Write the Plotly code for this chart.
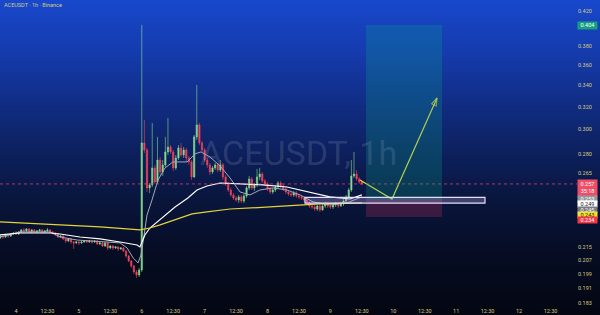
import plotly.graph_objects as go

# ---------------- data ----------------
hours = list(range(-6, 133))  # hours since day "4" 00:00

opens = [
    0.2204, 0.2216, 0.2210, 0.2223, 0.2216, 0.2229, 0.2235, 0.2229, 0.2242, 0.2255,
    0.2248, 0.2261, 0.2242, 0.2255, 0.2242, 0.2248, 0.2255, 0.2242, 0.2248, 0.2255,
    0.2242, 0.2235, 0.2229, 0.2210, 0.2216, 0.2198, 0.2185, 0.2198, 0.2179, 0.2173,
    0.2179, 0.2173, 0.2179, 0.2185, 0.2179, 0.2185, 0.2179, 0.2185, 0.2167, 0.2173,
    0.2154, 0.2173, 0.2142, 0.2154, 0.2142, 0.2148, 0.2136, 0.2142, 0.2124, 0.2094,
    0.2064, 0.2035, 0.2001, 0.1984, 0.2012, 0.2888, 0.2831, 0.2541, 0.2563, 0.2690,
    0.2585, 0.2751, 0.2659, 0.2713, 0.2815, 0.2855, 0.2815, 0.2690, 0.2767, 0.2847,
    0.2791, 0.2831, 0.2767, 0.2736, 0.2622, 0.2938, 0.3040, 0.2888, 0.2831, 0.2751,
    0.2713, 0.2659, 0.2690, 0.2713, 0.2674, 0.2713, 0.2622, 0.2570, 0.2526, 0.2491,
    0.2469, 0.2455, 0.2477, 0.2448, 0.2484, 0.2541, 0.2607, 0.2541, 0.2563, 0.2622,
    0.2644, 0.2592, 0.2570, 0.2534, 0.2512, 0.2526, 0.2548, 0.2577, 0.2555, 0.2534,
    0.2512, 0.2498, 0.2491, 0.2505, 0.2484, 0.2477, 0.2469, 0.2455, 0.2435, 0.2414,
    0.2407, 0.2393, 0.2414, 0.2387, 0.2414, 0.2428, 0.2414, 0.2407, 0.2421, 0.2428,
    0.2414, 0.2428, 0.2448, 0.2477, 0.2526, 0.2629, 0.2644, 0.2607, 0.2585,
]
highs = [
    0.2223, 0.2223, 0.2229, 0.2229, 0.2235, 0.2242, 0.2248, 0.2248, 0.2261, 0.2267,
    0.2267, 0.2267, 0.2261, 0.2261, 0.2255, 0.2261, 0.2261, 0.2255, 0.2267, 0.2261,
    0.2248, 0.2242, 0.2235, 0.2223, 0.2223, 0.2204, 0.2204, 0.2204, 0.2185, 0.2185,
    0.2185, 0.2185, 0.2191, 0.2191, 0.2191, 0.2191, 0.2191, 0.2191, 0.2179, 0.2179,
    0.2179, 0.2179, 0.2160, 0.2160, 0.2154, 0.2154, 0.2148, 0.2148, 0.2130, 0.2100,
    0.2070, 0.2041, 0.2012, 0.2024, 0.4040, 0.3083, 0.2847, 0.2577, 0.3057, 0.2713,
    0.2938, 0.2775, 0.2751, 0.2938, 0.3101, 0.2871, 0.2831, 0.2791, 0.2871, 0.2888,
    0.2855, 0.2847, 0.2783, 0.2751, 0.2954, 0.3406, 0.3057, 0.2904, 0.2847, 0.2767,
    0.2728, 0.2705, 0.2728, 0.2728, 0.2751, 0.2728, 0.2636, 0.2585, 0.2541, 0.2505,
    0.2484, 0.2491, 0.2491, 0.2498, 0.2555, 0.2629, 0.2622, 0.2577, 0.2682, 0.2690,
    0.2659, 0.2607, 0.2585, 0.2548, 0.2541, 0.2563, 0.2592, 0.2592, 0.2570, 0.2548,
    0.2526, 0.2512, 0.2519, 0.2519, 0.2498, 0.2491, 0.2484, 0.2469, 0.2448, 0.2428,
    0.2421, 0.2421, 0.2428, 0.2428, 0.2442, 0.2442, 0.2428, 0.2435, 0.2442, 0.2442,
    0.2442, 0.2462, 0.2491, 0.2541, 0.2751, 0.2815, 0.2674, 0.2622, 0.2592,
]
lows = [
    0.2198, 0.2198, 0.2204, 0.2204, 0.2210, 0.2223, 0.2223, 0.2223, 0.2235, 0.2235,
    0.2242, 0.2235, 0.2235, 0.2235, 0.2235, 0.2242, 0.2235, 0.2235, 0.2242, 0.2235,
    0.2229, 0.2216, 0.2204, 0.2204, 0.2191, 0.2173, 0.2179, 0.2167, 0.2136, 0.2167,
    0.2160, 0.2167, 0.2173, 0.2173, 0.2173, 0.2167, 0.2173, 0.2160, 0.2160, 0.2148,
    0.2148, 0.2130, 0.2136, 0.2130, 0.2136, 0.2124, 0.2130, 0.2118, 0.2082, 0.2058,
    0.2024, 0.1989, 0.1967, 0.1972, 0.2001, 0.2807, 0.2512, 0.2505, 0.2548, 0.2570,
    0.2570, 0.2636, 0.2629, 0.2697, 0.2791, 0.2799, 0.2667, 0.2674, 0.2751, 0.2775,
    0.2767, 0.2736, 0.2713, 0.2599, 0.2614, 0.2913, 0.2871, 0.2815, 0.2736, 0.2690,
    0.2636, 0.2644, 0.2674, 0.2659, 0.2659, 0.2599, 0.2555, 0.2512, 0.2477, 0.2455,
    0.2442, 0.2435, 0.2435, 0.2435, 0.2469, 0.2526, 0.2526, 0.2519, 0.2548, 0.2599,
    0.2577, 0.2555, 0.2519, 0.2498, 0.2498, 0.2512, 0.2534, 0.2541, 0.2519, 0.2498,
    0.2484, 0.2477, 0.2477, 0.2469, 0.2462, 0.2455, 0.2442, 0.2421, 0.2400, 0.2393,
    0.2380, 0.2380, 0.2373, 0.2380, 0.2400, 0.2400, 0.2393, 0.2393, 0.2407, 0.2400,
    0.2407, 0.2414, 0.2435, 0.2462, 0.2512, 0.2614, 0.2592, 0.2570, 0.2563,
]
closes = [
    0.2216, 0.2210, 0.2223, 0.2216, 0.2229, 0.2235, 0.2229, 0.2242, 0.2255, 0.2248,
    0.2261, 0.2242, 0.2255, 0.2242, 0.2248, 0.2255, 0.2242, 0.2248, 0.2255, 0.2242,
    0.2235, 0.2229, 0.2210, 0.2216, 0.2198, 0.2185, 0.2198, 0.2179, 0.2173, 0.2179,
    0.2173, 0.2179, 0.2185, 0.2179, 0.2185, 0.2179, 0.2185, 0.2167, 0.2173, 0.2154,
    0.2173, 0.2142, 0.2154, 0.2142, 0.2148, 0.2136, 0.2142, 0.2124, 0.2094, 0.2064,
    0.2035, 0.2001, 0.1984, 0.2012, 0.2888, 0.2831, 0.2541, 0.2563, 0.2690, 0.2585,
    0.2751, 0.2659, 0.2713, 0.2815, 0.2855, 0.2815, 0.2690, 0.2767, 0.2847, 0.2791,
    0.2831, 0.2767, 0.2736, 0.2622, 0.2938, 0.3040, 0.2888, 0.2831, 0.2751, 0.2713,
    0.2659, 0.2690, 0.2713, 0.2674, 0.2713, 0.2622, 0.2570, 0.2526, 0.2491, 0.2469,
    0.2455, 0.2477, 0.2448, 0.2484, 0.2541, 0.2607, 0.2541, 0.2563, 0.2622, 0.2644,
    0.2592, 0.2570, 0.2534, 0.2512, 0.2526, 0.2548, 0.2577, 0.2555, 0.2534, 0.2512,
    0.2498, 0.2491, 0.2505, 0.2484, 0.2477, 0.2469, 0.2455, 0.2435, 0.2414, 0.2407,
    0.2393, 0.2414, 0.2387, 0.2414, 0.2428, 0.2414, 0.2407, 0.2421, 0.2428, 0.2414,
    0.2428, 0.2448, 0.2477, 0.2526, 0.2629, 0.2644, 0.2607, 0.2585, 0.2570,
]

# moving-average lines
yellow_hours = [-6.1, 16.8, 32.1, 47.3, 51.1, 55.0, 60.7, 67.2, 72.9, 81.7, 96.9, 116.0, 132.0]
yellow_prices = [0.2307, 0.2290, 0.2274, 0.2255, 0.2267, 0.2287, 0.2320, 0.2360, 0.2373,
                 0.2393, 0.2407, 0.2428, 0.2435]

white_hours = [-6.1, 1.5, 13.0, 16.8, 24.4, 32.1, 39.7, 46.2, 47.3, 49.2, 51.1, 54.2, 56.9,
               60.7, 65.6, 69.1, 72.9, 77.9, 85.5, 94.3, 103.4, 111.1, 119.8, 127.5, 129.8, 132.0]
white_prices = [0.2223, 0.2235, 0.2235, 0.2229, 0.2210, 0.2198, 0.2179, 0.2160, 0.2148, 0.2223,
                0.2267, 0.2313, 0.2353, 0.2407, 0.2469, 0.2526, 0.2555, 0.2577, 0.2570, 0.2563,
                0.2548, 0.2512, 0.2477, 0.2462, 0.2477, 0.2491]

gray_hours = [-6.1, 1.5, 13.0, 16.8, 23.3, 32.1, 39.7, 42.4, 44.7, 46.6, 47.7, 48.9, 50.0, 51.9,
              54.2, 56.9, 59.9, 65.3, 68.3, 70.6, 74.0, 77.9, 81.7, 85.5, 89.3, 93.1, 98.1,
              103.4, 108.4, 113.4, 119.8, 126.3, 129.4, 132.0]
gray_prices = [0.2210, 0.2242, 0.2242, 0.2210, 0.2191, 0.2179, 0.2173, 0.2142, 0.2082, 0.2053,
               0.2100, 0.2223, 0.2353, 0.2455, 0.2599, 0.2690, 0.2736, 0.2736, 0.2799, 0.2815,
               0.2775, 0.2705, 0.2614, 0.2512, 0.2491, 0.2526, 0.2541, 0.2526, 0.2491, 0.2442,
               0.2421, 0.2435, 0.2455, 0.2477]

# drawings
arrow_hours = [131.3, 143.5, 160.7]
arrow_prices = [0.2599, 0.2462, 0.3282]
zone_hours = [110.3, 179.0]          # white rectangle
zone_prices = [0.2434, 0.2474]
position_hours = [133.6, 162.6]      # long position tool
target_price = 0.404
entry_price = 0.2455
stop_price = 0.234
last_price = 0.257

# axis ticks (0.400 is hidden behind the 0.404 label in the reference)
y_ticks = [0.420, 0.380, 0.360, 0.340, 0.320, 0.300, 0.280, 0.265,
           0.215, 0.207, 0.199, 0.191, 0.183]
x_tick_vals = [0, 12, 24, 36, 48, 60, 72, 84, 96, 108, 120, 132, 144, 156, 168, 180, 192, 204]
x_tick_text = ["4", "12:30", "5", "12:30", "6", "12:30", "7", "12:30", "8", "12:30",
               "9", "12:30", "10", "12:30", "11", "12:30", "12", "12:30"]

# ---------------- styling ----------------
W, H = 600, 315
PW, PH = 577, 306           # plot area size in px
GREEN = "#86dc8e"
RED = "#f2445c"
TXT = "#d4ca80"
FONT = "Roboto"

fig = go.Figure()

fig.add_trace(go.Candlestick(
    x=hours, open=opens, high=highs, low=lows, close=closes,
    increasing=dict(line=dict(color=GREEN, width=0.6), fillcolor=GREEN),
    decreasing=dict(line=dict(color=RED, width=0.6), fillcolor=RED),
    whiskerwidth=0, hoverinfo="skip", showlegend=False,
))
fig.add_trace(go.Scatter(x=gray_hours, y=gray_prices, mode="lines",
                         line=dict(color="#a3a8b6", width=1), hoverinfo="skip", showlegend=False))
fig.add_trace(go.Scatter(x=white_hours, y=white_prices, mode="lines",
                         line=dict(color="#ffffff", width=1.15), hoverinfo="skip", showlegend=False))
fig.add_trace(go.Scatter(x=yellow_hours, y=yellow_prices, mode="lines",
                         line=dict(color="#e3d23c", width=1.2), hoverinfo="skip", showlegend=False))
fig.add_trace(go.Scatter(
    x=arrow_hours, y=arrow_prices, mode="lines+markers",
    line=dict(color="#e6d640", width=1.2),
    marker=dict(symbol="arrow-open", size=[0, 0, 8], angleref="previous",
                color="#e6d640", line=dict(color="#e6d640", width=1.2)),
    hoverinfo="skip", showlegend=False))

# background gradient
stops = [(0, (24, 72, 204)), (50, (21, 60, 175)), (100, (17, 46, 135)), (150, (13, 33, 95)),
         (200, (9, 21, 60)), (250, (6, 13, 36)), (315, (4, 7, 18))]


def col_at(y):
    for (y0, c0), (y1, c1) in zip(stops[:-1], stops[1:]):
        if y0 <= y <= y1:
            t = (y - y0) / (y1 - y0)
            return "rgb(%d,%d,%d)" % tuple(round(a + (b - a) * t) for a, b in zip(c0, c1))
    return "rgb(%d,%d,%d)" % stops[-1][1]


shapes = []
step = 3
for i in range(0, H, step):
    shapes.append(dict(type="rect", xref="paper", yref="paper", layer="below",
                       x0=-0.01, x1=W / PW + 0.01,
                       y0=1 - (i + step + 0.8) / PH, y1=1 - i / PH,
                       fillcolor=col_at(i + step / 2), line=dict(width=0)))

# current price dotted line
shapes.append(dict(type="line", xref="paper", yref="y", x0=0, x1=1, y0=last_price, y1=last_price,
                   line=dict(color="rgba(242,70,95,0.7)", width=1, dash="dot"), layer="above"))
# long position zones
shapes.append(dict(type="rect", xref="x", yref="y", x0=position_hours[0], x1=position_hours[1],
                   y0=entry_price, y1=target_price, fillcolor="rgba(8,170,140,0.24)",
                   line=dict(width=0), layer="above"))
shapes.append(dict(type="rect", xref="x", yref="y", x0=position_hours[0], x1=position_hours[1],
                   y0=stop_price, y1=entry_price, fillcolor="rgba(242,54,100,0.22)",
                   line=dict(width=0), layer="above"))
# white zone rectangle
shapes.append(dict(type="rect", xref="x", yref="y", x0=zone_hours[0], x1=zone_hours[1],
                   y0=zone_prices[0], y1=zone_prices[1], fillcolor="rgba(190,170,230,0.30)",
                   line=dict(color="#e4defa", width=1.2), layer="above"))

annotations = []
# watermark
annotations.append(dict(xref="paper", yref="paper", x=298 / PW, y=1 - 153 / PH,
                        xanchor="center", yanchor="middle", showarrow=False,
                        text="ACEUSDT, 1h",
                        font=dict(family=FONT, size=34, color="rgba(140,152,180,0.24)")))
# title
annotations.append(dict(xref="paper", yref="paper", x=2 / PW, y=1 - 5 / PH,
                        xanchor="left", yanchor="middle", showarrow=False,
                        text="ACEUSDT · 1h · Binance",
                        font=dict(family=FONT, size=5.5, color=TXT)))


def label(text, ypix, bg, fg, h=5.5):
    return dict(xref="paper", yref="paper", x=1.0, y=1 - ypix / PH, xanchor="left",
                yanchor="middle", showarrow=False, text=text, bgcolor=bg,
                width=19, height=h, borderpad=0, align="center",
                font=dict(family=FONT, size=5.5, color=fg))


annotations += [
    label("0.404", 25, "#14a07e", "#ffffff", 6.5),
    label("0.257<br>35:18", 188, "#ee4d66", "#ffffff", 15.5),
    label("0.253", 198.7, "#9598a1", "#ffffff"),
    label("0.249", 204.2, "#ffffff", "#131722"),
    label("0.245", 209.7, "#787b86", "#ffffff"),
    label("0.243", 215.0, "#f2e232", "#131722"),
    label("0.234", 220.3, "#f23645", "#ffffff"),
]

fig.update_layout(
    width=W, height=H,
    margin=dict(l=0, r=W - PW, t=0, b=H - PH),
    paper_bgcolor="#04070f", plot_bgcolor="rgba(0,0,0,0)",
    shapes=shapes, annotations=annotations,
    showlegend=False, hovermode=False,
    xaxis=dict(type="linear", range=[-16 / 2.62, (PW - 16) / 2.62],
               tickvals=x_tick_vals, ticktext=x_tick_text,
               tickfont=dict(family=FONT, size=5.5, color=TXT),
               showgrid=False, zeroline=False, showline=False, ticks="",
               rangeslider=dict(visible=False), fixedrange=True),
    yaxis=dict(type="log", side="right",
               range=[-0.74088, -0.36282],
               tickvals=y_ticks, ticktext=["%.3f" % v for v in y_ticks],
               tickfont=dict(family=FONT, size=5.5, color=TXT),
               showgrid=False, zeroline=False, showline=False, ticks="",
               fixedrange=True),
    boxgap=0.3,
)

fig.write_html("out.html")
